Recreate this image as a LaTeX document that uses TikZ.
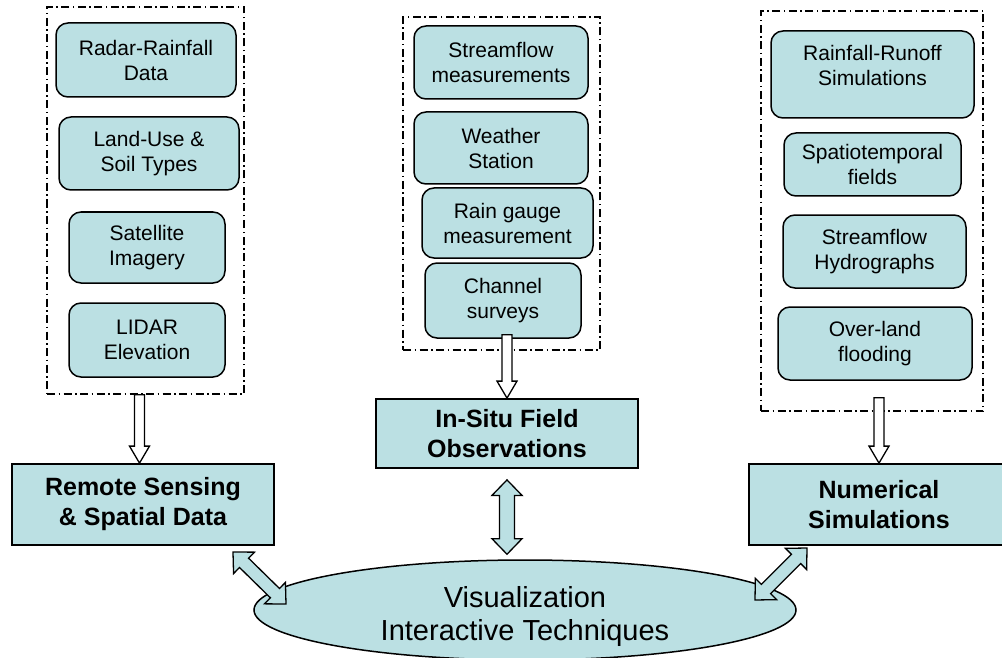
\documentclass[tikz,border=0pt]{standalone}
\usepackage{fontspec}
\setmainfont{Liberation Sans}
\usetikzlibrary{shapes.geometric,calc}
\definecolor{boxfill}{RGB}{187,224,227}

\tikzset{
  itembox/.style={draw, line width=1.5pt, rounded corners=12pt, fill=boxfill,
    align=center, inner sep=0pt, font=\fontsize{21}{25}\selectfont},
  groupbox/.style={draw, line width=1.4pt,
    dash pattern=on 8pt off 3.5pt on 1.5pt off 3.5pt},
  mainbox/.style={draw, line width=1.8pt, fill=boxfill, align=center,
    inner sep=0pt, font=\bfseries\fontsize{25}{30}\selectfont},
  % block arrow with one head: shaft half width, head half width, head length
  blockarrow/.style n args={3}{line width=1.3pt, line join=miter,
    to path={let \p1=(\tikztostart), \p2=(\tikztotarget),
      \n1={atan2(\y2-\y1,\x2-\x1)}, \n2={veclen(\x2-\x1,\y2-\y1)-#3} in
      ($(\p1)+(\n1+90:#1)$) -- ($(\p1)+(\n1:\n2)+(\n1+90:#1)$)
      -- ($(\p1)+(\n1:\n2)+(\n1+90:#2)$) -- (\p2)
      -- ($(\p1)+(\n1:\n2)+(\n1-90:#2)$) -- ($(\p1)+(\n1:\n2)+(\n1-90:#1)$)
      -- ($(\p1)+(\n1-90:#1)$) -- cycle}},
  % block arrow with a head at each end
  twowayarrow/.style n args={3}{line width=1.3pt, line join=miter,
    to path={let \p1=(\tikztostart), \p2=(\tikztotarget),
      \n1={atan2(\y2-\y1,\x2-\x1)}, \n2={veclen(\x2-\x1,\y2-\y1)-#3} in
      (\p1) -- ($(\p1)+(\n1:#3)+(\n1+90:#2)$) -- ($(\p1)+(\n1:#3)+(\n1+90:#1)$)
      -- ($(\p1)+(\n1:\n2)+(\n1+90:#1)$) -- ($(\p1)+(\n1:\n2)+(\n1+90:#2)$)
      -- (\p2)
      -- ($(\p1)+(\n1:\n2)+(\n1-90:#2)$) -- ($(\p1)+(\n1:\n2)+(\n1-90:#1)$)
      -- ($(\p1)+(\n1:#3)+(\n1-90:#1)$) -- ($(\p1)+(\n1:#3)+(\n1-90:#2)$)
      -- cycle}},
  feed/.style={blockarrow={5pt}{10pt}{17pt}, draw, fill=white},
  link/.style={twowayarrow={#1}{15pt}{15.5pt}, draw, fill=boxfill},
}

\begin{document}
\begin{tikzpicture}[x=1pt, y=-1pt]
\useasboundingbox (0,0) rectangle (1002,658);

% dashed groups
\node[groupbox, minimum width=197, minimum height=387] (lgrp) at (145.5,200.5) {};
\node[groupbox, minimum width=197, minimum height=333] (mgrp) at (501.5,183.5) {};
\node[groupbox, minimum width=222, minimum height=400] (rgrp) at (872,211) {};

% remote sensing items
\node[itembox, minimum width=180, minimum height=74] (rr)  at (146,60)    {Radar-Rainfall\\Data};
\node[itembox, minimum width=180, minimum height=73] (lu)  at (149,153.5) {Land-Use \&\\Soil Types};
\node[itembox, minimum width=156, minimum height=71] (sat) at (147,247.5) {Satellite\\Imagery};
\node[itembox, minimum width=156, minimum height=74] (lid) at (147,340)   {LIDAR\\Elevation};

% field observation items
\node[itembox, minimum width=174, minimum height=73] (sfm) at (501,62.5) {Streamflow\\measurements};
\node[itembox, minimum width=174, minimum height=72] (ws)  at (501,148)  {Weather\\Station};
\node[itembox, minimum width=171, minimum height=70] (rg)  at (507.5,223) {Rain gauge\\measurement};
\node[itembox, minimum width=156, minimum height=75] (chs) at (503,300.5) {Channel\\surveys};

% simulation items (the first box keeps its text in the upper part)
\node[itembox, minimum width=203, minimum height=87] (rro) at (872.5,74.5)
  {\raisebox{6pt}[\height][\depth]{\begin{tabular}{@{}c@{}}Rainfall-Runoff\\Simulations\end{tabular}}};
\node[itembox, minimum width=177, minimum height=63] (spt) at (872.5,164.5) {Spatiotemporal\\fields};
\node[itembox, minimum width=183, minimum height=73] (shy) at (874.5,251.5) {Streamflow\\Hydrographs};
\node[itembox, minimum width=194, minimum height=73] (olf) at (875,343.5)   {Over-land\\flooding};

% main categories
\node[mainbox, minimum width=262, minimum height=81] (rs)  at (143,504.5) {Remote Sensing\\\& Spatial Data};
\node[mainbox, minimum width=262, minimum height=69] (ins) at (507,433.5) {In-Situ Field\\Observations};
\node[mainbox, minimum width=260, minimum height=81] (num) at (879,504.5) {Numerical\\Simulations};

% visualization hub
\node[ellipse, draw, line width=1.5pt, fill=boxfill, minimum width=542,
      minimum height=100, inner sep=0pt] (viz) at (525,610) {};
\node[align=center, inner sep=0pt, font=\fontsize{29}{33}\selectfont]
      (vizlabel) at ($(viz.center)+(0,6)$) {Visualization\\Interactive Techniques};

% data feeding into each category
\draw[feed] ($(lgrp.south)+(-6,0)$) to ($(rs.north)+(-3.5,0)$);
\draw[feed] ($(ins.north |- chs.south)+(0,-4)$) to (ins.north);
\draw[feed] ($(num.north |- olf.south)+(0,17)$) to (num.north);

% two-way links with the visualization hub
\coordinate (la) at (233,552);
\coordinate (lb) at (286,604);
\coordinate (ra) at (807,548);
\coordinate (rb) at (755,600);
\draw[link=7.5pt] ($(ins.south)+(0,11)$) to ($(ins.south |- viz.north)+(0,-5)$);
\draw[link=6.5pt] (la) to (lb);
\draw[link=6.5pt] (ra) to (rb);
\end{tikzpicture}
\end{document}
